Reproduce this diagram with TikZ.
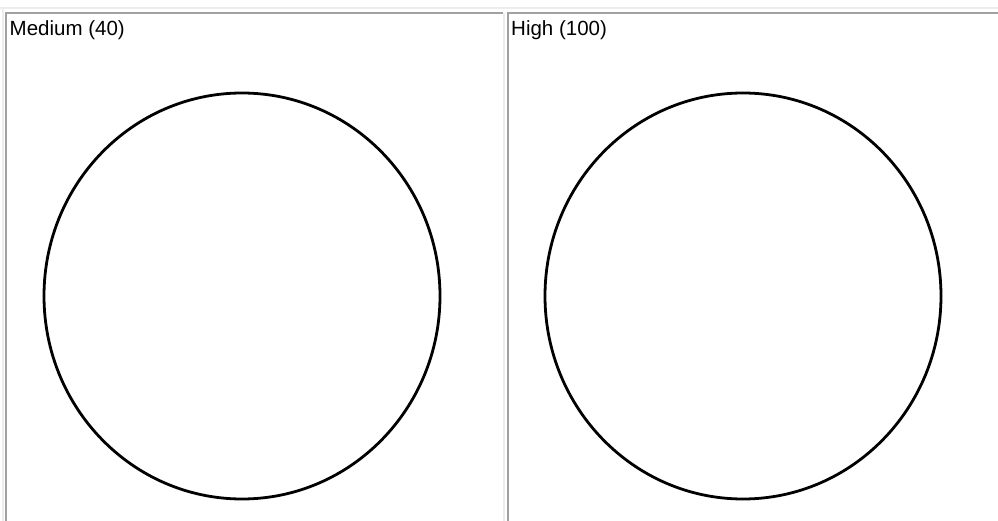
\documentclass[tikz,border=0pt]{standalone}
\usepackage{fontspec}
\setmainfont{Liberation Sans}
\usetikzlibrary{shapes.geometric}
\begin{document}
\begin{tikzpicture}[x=1pt,y=-1pt,
  darkb/.style={draw=black!37,line width=2pt},
  lightb/.style={draw=black!7,line width=2pt},
  ring/.style={draw=black,line width=2.8pt},
  lbl/.style={anchor=north west,inner sep=0pt,font=\fontsize{20.5}{24}\selectfont}]
\useasboundingbox[fill=white] (0,0) rectangle (998,521);
% outer table edges
\draw[lightb] (0,8.5) -- (998,8.5);
\draw[lightb] (3,8.5) -- (3,521);
% cell 1
\draw[darkb] (5.5,521) -- (5.5,13.5) -- (503,13.5);
\draw[lightb] (504,13.5) -- (504,521);
% cell 2
\draw[darkb] (507.5,521) -- (507.5,13.5) -- (998,13.5);
% labels
\node[lbl] (t1) at (9.5,20.5) {Medium (40)};
\node[lbl] (t2) at (511,20.5) {High (100)};
% circles
\node[ring,ellipse,minimum width=396pt,minimum height=406pt,inner sep=0pt] (c1) at (242,296) {};
\node[ring,ellipse,minimum width=396pt,minimum height=406pt,inner sep=0pt] (c2) at (743,296) {};
\end{tikzpicture}
\end{document}
